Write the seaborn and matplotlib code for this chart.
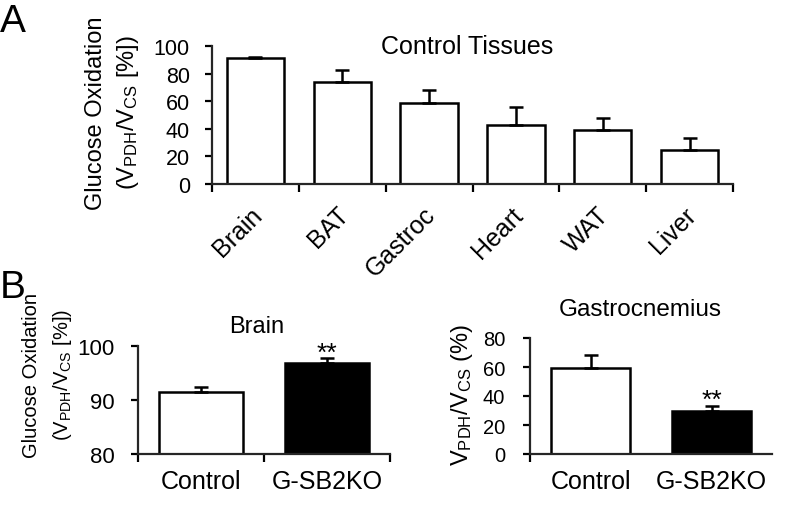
import numpy as np
import pandas as pd
import matplotlib
matplotlib.use("Agg")
import matplotlib.pyplot as plt
import matplotlib.transforms as mtrans
import seaborn as sns

# Panel A: control tissues
tissues = ["Brain", "BAT", "Gastroc", "Heart", "WAT", "Liver"]
tissue_mean = [91.3, 74.0, 58.7, 42.8, 39.1, 24.6]
tissue_err = [0.9, 8.7, 9.4, 13.0, 8.7, 8.7]

# Panel B: knockout vs control
groups = ["Control", "G-SB2KO"]
brain_mean = [91.5, 96.8]
brain_err = [0.9, 1.0]
gastro_mean = [59.3, 29.7]
gastro_err = [9.0, 3.3]

sns.set_style("ticks")
plt.rcParams["font.family"] = ["Liberation Sans", "DejaVu Sans"]
plt.rcParams["mathtext.fontset"] = "custom"
plt.rcParams["mathtext.rm"] = "Liberation Sans"
plt.rcParams["mathtext.it"] = "Liberation Sans:italic"
plt.rcParams["axes.linewidth"] = 1.6
plt.rcParams["text.color"] = "black"
plt.rcParams["xtick.color"] = "black"
plt.rcParams["ytick.color"] = "black"

W, H = 796, 510
fig = plt.figure(figsize=(W / 100, H / 100), dpi=100)


def box(x0, y0, x1, y1):
    # pixel box (left, top, right, bottom) -> figure fraction rect
    return [x0 / W, 1 - y1 / H, (x1 - x0) / W, (y1 - y0) / H]


def px(x, y):
    return x / W, 1 - y / H


def draw_bars(ax, cats, means, errs, colors, boundary_ticks):
    df = pd.DataFrame({"cat": cats, "val": means})
    sns.barplot(data=df, x="cat", y="val", hue="cat", palette=colors,
                saturation=1, edgecolor="black", linewidth=1.8, width=0.66,
                errorbar=None, legend=False, ax=ax)
    ax.errorbar(np.arange(len(cats)), means,
                yerr=[np.zeros(len(errs)), errs], fmt="none",
                ecolor="black", elinewidth=1.8, capsize=5, capthick=1.8,
                zorder=5)
    ax.set_xlim(-0.5, len(cats) - 0.5)
    ax.set_xlabel("")
    ax.set_ylabel("")
    sns.despine(ax=ax)
    ax.tick_params(axis="x", which="major", length=0)
    ax.set_xticks(boundary_ticks, minor=True)
    ax.tick_params(axis="x", which="minor", length=6, width=1.6,
                   direction="out")
    ax.tick_params(axis="y", length=5, width=1.6, direction="out")


# ---- Panel A
axA = fig.add_axes(box(212, 47, 733, 185))
draw_bars(axA, tissues, tissue_mean, tissue_err, ["white"] * len(tissues),
          np.arange(-0.5, len(tissues)))
axA.set_ylim(0, 100)
axA.set_yticks([0, 20, 40, 60, 80, 100])
axA.tick_params(axis="y", labelsize=15.5, pad=11)
axA.set_xticks(range(len(tissues)))
axA.set_xticklabels(tissues, rotation=45, ha="right",
                    rotation_mode="anchor", fontsize=18)
axA.tick_params(axis="x", which="major", pad=10)
# nudge the slanted labels a little down-left, as in the original
shift = mtrans.ScaledTranslation(-4 / 72, -3 / 72, fig.dpi_scale_trans)
for lab in axA.get_xticklabels():
    lab.set_transform(lab.get_transform() + shift)

# ---- Panel B left (Brain)
axB1 = fig.add_axes(box(138, 347, 390, 455))
draw_bars(axB1, groups, brain_mean, brain_err, ["white", "black"],
          [-0.5, 0.5, 1.5])
axB1.set_ylim(80, 100)
axB1.set_yticks([80, 90, 100])
axB1.tick_params(axis="y", labelsize=16, pad=12)
axB1.tick_params(axis="x", which="major", labelsize=18, pad=11)
axB1.annotate("**", (1, brain_mean[1] + brain_err[1]), xytext=(0, -5),
              textcoords="offset points", ha="center", va="bottom",
              fontsize=19)

# ---- Panel B right (Gastrocnemius)
axB2 = fig.add_axes(box(530, 339, 772, 455))
draw_bars(axB2, groups, gastro_mean, gastro_err, ["white", "black"], [-0.5])
axB2.set_ylim(0, 80)
axB2.set_yticks([0, 20, 40, 60, 80])
axB2.tick_params(axis="y", labelsize=14.5, pad=13)
axB2.tick_params(axis="x", which="major", labelsize=18, pad=11)
axB2.annotate("**", (1, gastro_mean[1] + gastro_err[1]), xytext=(0, -4),
              textcoords="offset points", ha="center", va="bottom",
              fontsize=19)

# ---- titles, labels, panel letters
fig.text(*px(467, 47), "Control Tissues", ha="center", va="center",
         fontsize=18)
fig.text(*px(257, 327), "Brain", ha="center", va="center", fontsize=17)
fig.text(*px(640, 310), "Gastrocnemius", ha="center", va="center",
         fontsize=17.5)

ylab2 = r"($\mathregular{V_{PDH}/V_{CS}}$ [%])"
fig.text(*px(96, 113), "Glucose Oxidation", rotation=90, ha="center",
         va="center", fontsize=17)
fig.text(*px(128, 113), ylab2, rotation=90, ha="center", va="center",
         fontsize=17)
fig.text(*px(32, 375), "Glucose Oxidation", rotation=90, ha="center",
         va="center", fontsize=14.5)
fig.text(*px(63, 375), ylab2, rotation=90, ha="center", va="center",
         fontsize=14.5)
fig.text(*px(462, 395), r"$\mathregular{V_{PDH}/V_{CS}}$ (%)", rotation=90,
         ha="center", va="center", fontsize=17)

fig.text(*px(0, 22), "A", ha="left", va="center", fontsize=28)
fig.text(*px(0, 288), "B", ha="left", va="center", fontsize=28)

fig.savefig("out.png", dpi=100, facecolor="white")
